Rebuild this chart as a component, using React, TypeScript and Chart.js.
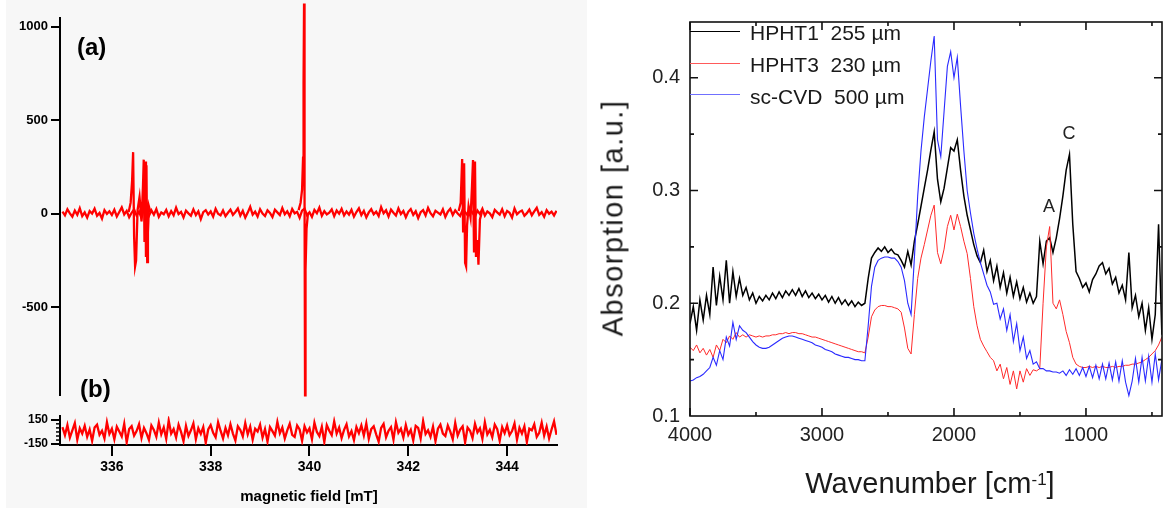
import React, { useEffect, useRef } from 'react';
import { Chart, registerables } from 'chart.js';

Chart.register(...registerables);

const FONT = '"Liberation Sans", Arial, Helvetica, sans-serif';

// ---------------- EPR (left) ----------------
const EPR_FIELD_START = 335;
const EPR_FIELD_STEP = 0.05;

// (a) baseline noise, one value per 0.05 mT from 335 mT
const eprBaselineA = [
  12, -8, 25, 3, -15, 18, -5, 30, -12, 8,
  -20, 15, 2, 28, -10, 5, -25, 20, 0, 14,
  -6, 22, -14, 10, 35, -3, 16, -18, 6, 24,
  -9, 12, -22, 30, 4, -11, 19, -4, 26, -16,
  8, -2, 21, -13, 15, -7, 33, -1, 11, -19,
  17, 3, -10, 24, -6, 14, -28, 9, 20, -3,
  13, -15, 27, 1, -8, 18, -12, 6, 23, -5,
  10, 29, -9, 16, -20, 7, 38, -4, 12, -14,
  25, 2, -11, 19, 5, -17, 22, 8, -6, 31,
  -2, 14, -13, 26, 3, 11, -21, 17, 28, -7,
  9, -16, 21, 4, 34, -10, 15, -3, 7, 24,
  -12, 18, 1, 27, -8, 13, -4, 22, -15, 10,
  30, -6, 16, -19, 8, 25, -2, 12, -11, 36,
  3, 19, -14, 23, 6, -9, 29, -1, 15, -18,
  11, 26, -5, 14, -22, 9, 20, -8, 32, 4,
  -13, 17, 7, -3, 24, -16, 12, 28, -6, 19,
  2, -11, 22, 10, -7, 31, 5, -14, 18, -1,
  27, -9, 13, 3, -17, 21, 8, -4, 25, -12,
  16, 6, -20, 29, -2, 11, 18, -10, 4, 23,
  -7, 14, 33, -5, 9, -15, 20, 1, 12, -8,
  17,
];

// (a) hyperfine / central lines
const eprLowField = [336.34, 336.38, 336.41, 336.43, 336.45, 336.47, 336.49, 336.52, 336.56, 336.6, 336.63, 336.645, 336.66, 336.675, 336.69, 336.7, 336.715, 336.73, 336.75, 336.78];
const eprLowSignal = [10, 60, 180, 330, -120, -280, -250, 20, 90, -40, 150, 290, -150, 280, -230, 260, -258, -100, 40, 10];
const eprCenterField = [339.78, 339.82, 339.85, 339.87, 339.88, 339.89, 339.9, 339.91, 339.92, 339.94, 339.97];
const eprCenterSignal = [20, 60, 130, 300, 700, 1125, 100, -970, -300, -80, 5];
const eprHighField = [343.02, 343.06, 343.09, 343.11, 343.13, 343.15, 343.17, 343.19, 343.22, 343.26, 343.29, 343.31, 343.33, 343.35, 343.37, 343.4, 343.42, 343.45, 343.49];
const eprHighSignal = [15, 60, 293, -100, 270, -262, -280, -60, 40, -20, 150, 288, -200, 280, -230, -140, -272, -30, 10];

// (b) spectrum, one value per 0.05 mT from 335 mT
const eprSpectrumB = [
  60, -40, 85, -70, 20, 110, -95, 45, -20, 75,
  -60, 30, -110, 55, 90, -35, 15, -80, 120, -25,
  40, -90, 65, 5, -55, 100, -130, 35, 70, -45,
  10, 95, -75, 50, -15, -100, 80, 25, -60, 115,
  -30, 55, -85, 140, -20, 35, -70, 90, 0, -115,
  75, -50, 20, 105, -90, 45, -25, 60, -135, 30,
  85, -10, -65, 120, 15, -80, 50, -40, 95, -20,
  -105, 70, 25, -55, 110, -30, 65, -95, 40, 5,
  90, -70, 35, -120, 60, 10, -45, 125, -15, 55,
  -80, 20, 100, -35, -60, 80, 30, -110, 70, -5,
  45, -90, 115, 0, -50, 65, -125, 85, 15, -40,
  130, -20, 55, -75, 25, 95, -55, 10, -100, 60,
  -15, 80, -45, 105, -85, 35, 70, -30, -120, 50,
  100, -65, 15, 60, -95, 120, -10, 40, -70, 85,
  -35, 25, -105, 75, 50, -80, 135, -25, 20, -60,
  65, -115, 40, 90, -20, -50, 80, 5, -90, 110,
  -45, 30, 70, -130, 55, 15, -75, 100, -5, 45,
  -85, 120, -30, 25, -65, 90, 35, -110, 60, -15,
  80, -40, 10, 105, -95, 50, -20, 70, -125, 40,
  20, 95, -60, -10, 115, -45, 65, -80, 30, 130,
  -35,
];

const eprFieldTicks = [336, 338, 340, 342, 344];
const eprTicksA = [-500, 0, 500, 1000];
const eprTicksB = [-150, 150];
const eprMinorTicksB = [-100, -50, 0, 50, 100];

// ---------------- FTIR (right) ----------------
const WN_START = 4000;
const WN_STEP = 25;

const hpht1 = [
  0.182, 0.197, 0.176, 0.203, 0.185, 0.207, 0.19, 0.232,
  0.198, 0.224, 0.203, 0.238, 0.2, 0.228, 0.206, 0.222,
  0.207, 0.214, 0.203, 0.209, 0.2, 0.206, 0.202, 0.207,
  0.203, 0.209, 0.204, 0.21, 0.205, 0.211, 0.207, 0.212,
  0.207, 0.213, 0.206, 0.211, 0.205, 0.209, 0.204, 0.208,
  0.203, 0.207, 0.201, 0.206, 0.2, 0.205, 0.199, 0.203,
  0.198, 0.202, 0.197, 0.201, 0.198, 0.2, 0.222, 0.24,
  0.245, 0.249, 0.246, 0.25, 0.245, 0.248, 0.244, 0.243,
  0.238, 0.232, 0.246, 0.234, 0.255, 0.27, 0.286, 0.302,
  0.318, 0.336, 0.352, 0.31, 0.29, 0.302, 0.32, 0.338,
  0.335, 0.345, 0.318, 0.295, 0.278, 0.265, 0.252, 0.242,
  0.236, 0.247, 0.228, 0.238, 0.22, 0.233, 0.214, 0.227,
  0.209, 0.223, 0.206, 0.219, 0.204, 0.214, 0.201, 0.209,
  0.2, 0.206, 0.255, 0.235, 0.255, 0.258, 0.245, 0.258,
  0.275, 0.295, 0.318, 0.332, 0.27, 0.228, 0.222, 0.214,
  0.218, 0.21, 0.221, 0.226, 0.233, 0.236, 0.226, 0.231,
  0.217, 0.223, 0.209, 0.216, 0.203, 0.245, 0.196, 0.207,
  0.188, 0.2, 0.176, 0.196, 0.168, 0.19, 0.27, 0.172,
];

const hpht3 = [
  0.161, 0.158, 0.163, 0.156, 0.16, 0.154, 0.159, 0.152,
  0.163, 0.158, 0.168, 0.165, 0.171, 0.168, 0.174, 0.17,
  0.172, 0.17, 0.172, 0.171, 0.17, 0.171, 0.17, 0.171,
  0.171, 0.172, 0.172, 0.173, 0.173, 0.174, 0.173, 0.174,
  0.174, 0.173, 0.173, 0.172, 0.171, 0.17, 0.17, 0.169,
  0.168, 0.167, 0.166, 0.165, 0.164, 0.163, 0.162, 0.161,
  0.16, 0.159, 0.158, 0.157, 0.157, 0.156, 0.17, 0.188,
  0.194, 0.197, 0.198, 0.198, 0.197, 0.197, 0.196, 0.195,
  0.192, 0.178, 0.16, 0.155, 0.19, 0.222, 0.24, 0.252,
  0.265, 0.278, 0.287, 0.245, 0.235, 0.248, 0.268, 0.278,
  0.265, 0.279, 0.268, 0.255, 0.244, 0.222, 0.197, 0.18,
  0.168, 0.162, 0.157, 0.152, 0.149, 0.14, 0.146, 0.133,
  0.143, 0.128, 0.14, 0.124, 0.14, 0.13, 0.142, 0.136,
  0.141, 0.14, 0.142, 0.2, 0.25, 0.268, 0.2, 0.195,
  0.203, 0.19, 0.175, 0.165, 0.152, 0.146, 0.144, 0.143,
  0.143, 0.144, 0.143, 0.144, 0.143, 0.144, 0.143, 0.143,
  0.144, 0.143, 0.144, 0.144, 0.145, 0.145, 0.146, 0.146,
  0.147, 0.148, 0.15, 0.152, 0.155, 0.158, 0.163, 0.17,
];

const scCvd = [
  0.131, 0.132, 0.134, 0.135, 0.137, 0.14, 0.143, 0.152,
  0.145, 0.158, 0.15, 0.17, 0.162, 0.183, 0.168, 0.18,
  0.176, 0.174, 0.17, 0.166, 0.163, 0.161, 0.16, 0.16,
  0.161, 0.163, 0.165, 0.167, 0.169, 0.17, 0.171, 0.171,
  0.17, 0.169, 0.168, 0.167, 0.166, 0.165, 0.163, 0.162,
  0.161, 0.159, 0.158, 0.157, 0.155, 0.154, 0.153, 0.152,
  0.152, 0.151, 0.15, 0.15, 0.149, 0.149, 0.18, 0.215,
  0.232, 0.238, 0.24, 0.241, 0.241, 0.24, 0.24, 0.237,
  0.232, 0.22, 0.2, 0.19, 0.24, 0.295, 0.335, 0.365,
  0.39, 0.415, 0.437, 0.345, 0.33, 0.37, 0.41, 0.423,
  0.4, 0.418, 0.375, 0.335, 0.3, 0.28, 0.262, 0.248,
  0.236, 0.226, 0.216, 0.21, 0.199, 0.2, 0.186, 0.195,
  0.176, 0.19, 0.166, 0.182, 0.158, 0.17, 0.151, 0.158,
  0.146, 0.148, 0.142, 0.142, 0.14, 0.14, 0.139, 0.139,
  0.138, 0.14, 0.136, 0.141, 0.137, 0.142, 0.136, 0.143,
  0.135, 0.144, 0.134, 0.145, 0.133, 0.146, 0.133, 0.147,
  0.132, 0.148, 0.131, 0.149, 0.13, 0.118, 0.131, 0.151,
  0.13, 0.152, 0.131, 0.153, 0.13, 0.155, 0.132, 0.15,
];

const ftirMajorX = [4000, 3000, 2000, 1000];
const ftirMinorX = [3500, 2500, 1500, 500];
const ftirMajorY = [0.1, 0.2, 0.3, 0.4];
const ftirMinorY = [0.15, 0.25, 0.35];
const legendLabels = ['HPHT1  255 \u00b5m', 'HPHT3  230 \u00b5m', 'sc-CVD  500 \u00b5m'];
const seriesColors = ['#000000', '#ff2a2a', '#2a2aff'];
const legendColors = ['#000000', '#ff5a5a', '#7070ff'];
const peakNames = ['A', 'C'];
const peakWavenumbers = [1280, 1129];
const peakHeights = [0.285, 0.35];

// ---------------- helpers ----------------
const eprPoints = (values: number[]) =>
  values.map((v, i) => ({ x: EPR_FIELD_START + i * EPR_FIELD_STEP, y: v }));
const pairPoints = (xs: number[], ys: number[]) => xs.map((x, i) => ({ x, y: ys[i] }));
const ftirPoints = (values: number[]) =>
  values.map((v, i) => ({ x: WN_START - i * WN_STEP, y: v }));

const redLine = (data: any[], extra: any = {}) => ({
  data,
  borderColor: '#ff0000',
  borderWidth: 2.3,
  pointRadius: 0,
  tension: 0,
  ...extra,
});

const boldTickFont = (size: number) => ({ family: FONT, size, weight: 'bold' as const });

const minorTicksPlugin = {
  id: 'minorTicksB',
  afterDraw(chart: any) {
    const { ctx, chartArea, scales } = chart;
    ctx.save();
    ctx.strokeStyle = '#000';
    ctx.lineWidth = 1.5;
    eprMinorTicksB.forEach((v) => {
      const py = scales.y.getPixelForValue(v);
      ctx.beginPath();
      ctx.moveTo(chartArea.left - 4, py);
      ctx.lineTo(chartArea.left, py);
      ctx.stroke();
    });
    ctx.restore();
  },
};

const frameTicksPlugin = {
  id: 'frameTicks',
  afterDatasetsDraw(chart: any) {
    const { ctx, chartArea: a, scales } = chart;
    const x = scales.x;
    const y = scales.y;
    ctx.save();
    ctx.strokeStyle = '#111';
    ctx.lineWidth = 1.6;
    ctx.strokeRect(a.left, a.top, a.right - a.left, a.bottom - a.top);
    const drawX = (vals: number[], len: number) =>
      vals.forEach((v) => {
        const px = x.getPixelForValue(v);
        ctx.beginPath();
        ctx.moveTo(px, a.bottom);
        ctx.lineTo(px, a.bottom - len);
        ctx.moveTo(px, a.top);
        ctx.lineTo(px, a.top + len);
        ctx.stroke();
      });
    const drawY = (vals: number[], len: number) =>
      vals.forEach((v) => {
        const py = y.getPixelForValue(v);
        ctx.beginPath();
        ctx.moveTo(a.left, py);
        ctx.lineTo(a.left + len, py);
        ctx.moveTo(a.right, py);
        ctx.lineTo(a.right - len, py);
        ctx.stroke();
      });
    drawX(ftirMajorX, 8);
    drawX(ftirMinorX, 4);
    drawY(ftirMajorY.slice(1), 8);
    drawY(ftirMinorY, 4);
    ctx.fillStyle = '#222';
    ctx.font = `18px ${FONT}`;
    ctx.textAlign = 'center';
    ctx.textBaseline = 'middle';
    peakNames.forEach((t, i) => {
      ctx.fillText(t, x.getPixelForValue(peakWavenumbers[i]), y.getPixelForValue(peakHeights[i]));
    });
    ctx.restore();
  },
};

// ---------------- chart configs ----------------
const buildEprA = () => ({
  type: 'line',
  data: {
    datasets: [
      redLine(eprPoints(eprBaselineA)),
      redLine(pairPoints(eprLowField, eprLowSignal)),
      redLine(pairPoints(eprCenterField, eprCenterSignal), { clip: false }),
      redLine(pairPoints(eprHighField, eprHighSignal)),
    ],
  },
  options: {
    animation: false,
    responsive: false,
    layout: { padding: { top: 18, right: 23, bottom: 3, left: 0 } },
    plugins: { legend: { display: false }, tooltip: { enabled: false } },
    scales: {
      x: { type: 'linear', display: false, min: 334.95, max: 345.01 },
      y: {
        type: 'linear',
        min: -969,
        max: 1047,
        afterFit: (s: any) => { s.width = 60; },
        afterBuildTicks: (s: any) => { s.ticks = eprTicksA.map((v) => ({ value: v })); },
        border: { display: true, color: '#000', width: 2 },
        grid: { display: true, drawOnChartArea: false, drawTicks: true, tickLength: 9, color: '#000', lineWidth: 2 },
        ticks: { color: '#000', font: boldTickFont(13), padding: 3, callback: (v: number) => String(v) },
      },
    },
  },
});

const buildEprB = () => ({
  type: 'line',
  data: { datasets: [redLine(eprPoints(eprSpectrumB))] },
  options: {
    animation: false,
    responsive: false,
    layout: { padding: { top: 7, right: 23, bottom: 0, left: 0 } },
    plugins: { legend: { display: false }, tooltip: { enabled: false } },
    scales: {
      x: {
        type: 'linear',
        min: 334.95,
        max: 345.01,
        afterFit: (s: any) => { s.height = 63; },
        afterBuildTicks: (s: any) => { s.ticks = eprFieldTicks.map((v) => ({ value: v })); },
        border: { display: true, color: '#000', width: 2 },
        grid: { display: true, drawOnChartArea: false, drawTicks: true, tickLength: 11, color: '#000', lineWidth: 2 },
        ticks: { color: '#000', font: boldTickFont(14), padding: 3, maxRotation: 0, autoSkip: false, callback: (v: number) => String(v) },
      },
      y: {
        type: 'linear',
        min: -161,
        max: 194,
        afterFit: (s: any) => { s.width = 60; },
        afterBuildTicks: (s: any) => { s.ticks = eprTicksB.map((v) => ({ value: v })); },
        border: { display: true, color: '#000', width: 2 },
        grid: { display: true, drawOnChartArea: false, drawTicks: true, tickLength: 9, color: '#000', lineWidth: 2 },
        ticks: { color: '#000', font: boldTickFont(12), padding: 3, callback: (v: number) => String(v) },
      },
    },
  },
  plugins: [minorTicksPlugin],
});

const isIn = (list: number[], v: number) => list.some((m) => Math.abs(m - v) < 1e-6);

const buildFtir = () => ({
  type: 'line',
  data: {
    datasets: [
      { label: legendLabels[0], data: ftirPoints(hpht1), borderColor: seriesColors[0], borderWidth: 1.5, pointRadius: 0, tension: 0, order: 2 },
      { label: legendLabels[1], data: ftirPoints(hpht3), borderColor: seriesColors[1], borderWidth: 1, pointRadius: 0, tension: 0, order: 1 },
      { label: legendLabels[2], data: ftirPoints(scCvd), borderColor: seriesColors[2], borderWidth: 1.1, pointRadius: 0, tension: 0, order: 0 },
    ],
  },
  options: {
    animation: false,
    responsive: false,
    layout: { padding: { top: 13, right: 4, bottom: 0, left: 0 } },
    plugins: { legend: { display: false }, tooltip: { enabled: false } },
    scales: {
      x: {
        type: 'linear',
        reverse: true,
        min: 424,
        max: 4000,
        afterFit: (s: any) => { s.height = 92; },
        afterBuildTicks: (s: any) => {
          s.ticks = [...ftirMajorX, ...ftirMinorX].sort((p, q) => q - p).map((v) => ({ value: v }));
        },
        border: { display: false },
        grid: { display: false, drawTicks: false },
        ticks: {
          color: '#222',
          font: { family: FONT, size: 20 },
          padding: 7,
          maxRotation: 0,
          autoSkip: false,
          callback: (v: number) => (isIn(ftirMajorX, v) ? String(v) : ''),
        },
      },
      y: {
        type: 'linear',
        min: 0.1,
        max: 0.4494,
        afterFit: (s: any) => { s.width = 103; },
        afterBuildTicks: (s: any) => {
          s.ticks = [...ftirMajorY, ...ftirMinorY].sort((p, q) => p - q).map((v) => ({ value: v }));
        },
        border: { display: false },
        grid: { display: false, drawTicks: false },
        ticks: {
          color: '#222',
          font: { family: FONT, size: 20 },
          padding: 10,
          callback: (v: number) => (isIn(ftirMajorY, v) ? v.toFixed(1) : ''),
        },
      },
    },
  },
  plugins: [frameTicksPlugin],
});

// ---------------- components ----------------
function ChartCanvas({ left, top, width, height, build }: any) {
  const ref = useRef<HTMLCanvasElement>(null);
  useEffect(() => {
    const chart = new Chart(ref.current as HTMLCanvasElement, build() as any);
    return () => chart.destroy();
  }, []);
  return (
    <canvas
      ref={ref}
      width={width}
      height={height}
      style={{ position: 'absolute', left, top, width, height }}
    />
  );
}

const abs = (s: any) => ({ position: 'absolute' as const, whiteSpace: 'pre' as const, ...s });

export default function App() {
  const legendTops = [21.5, 54, 85.5];
  const legendLineY = [30.5, 63, 94];
  return (
    <div style={{ position: 'absolute', left: 0, top: 0, width: 1166, height: 508, background: '#fff', overflow: 'hidden', fontFamily: FONT }}>
      <div style={abs({ left: 6, top: 0, width: 581, height: 508, background: '#f7f7f7' })} />
      <ChartCanvas left={0} top={0} width={580} height={406} build={buildEprA} />
      <ChartCanvas left={0} top={406} width={580} height={102} build={buildEprB} />
      <div style={abs({ left: 77, top: 34.5, fontSize: 24, lineHeight: '24px', fontWeight: 'bold', color: '#000' })}>(a)</div>
      <div style={abs({ left: 80, top: 377, fontSize: 24, lineHeight: '24px', fontWeight: 'bold', color: '#000' })}>(b)</div>
      <div style={abs({ left: 0, width: 618, top: 488, textAlign: 'center', fontSize: 15, lineHeight: '15px', fontWeight: 'bold', color: '#000' })}>magnetic field [mT]</div>

      <ChartCanvas left={587} top={0} width={579} height={508} build={buildFtir} />
      {legendLabels.map((t, i) => (
        <React.Fragment key={t}>
          <div style={abs({ left: 690, top: legendLineY[i], width: 50, height: 1.2, background: legendColors[i] })} />
          <div style={abs({ left: 750, top: legendTops[i], fontSize: 21, lineHeight: '21px', color: '#1a1a1a' })}>{t}</div>
        </React.Fragment>
      ))}
      <div
        style={abs({
          left: 613,
          top: 218,
          transform: 'translate(-50%, -50%) rotate(-90deg)',
          fontSize: 29,
          lineHeight: '29px',
          letterSpacing: '1.5px',
          color: '#1a1a1a',
        })}
      >
        Absorption [a.u.]
      </div>
      <div style={abs({ left: 730, width: 400, top: 469, textAlign: 'center', fontSize: 29, lineHeight: '29px', color: '#1a1a1a' })}>
        Wavenumber [cm<sup style={{ fontSize: 17, verticalAlign: 'top', position: 'relative', top: -4 }}>-1</sup>]
      </div>
    </div>
  );
}
